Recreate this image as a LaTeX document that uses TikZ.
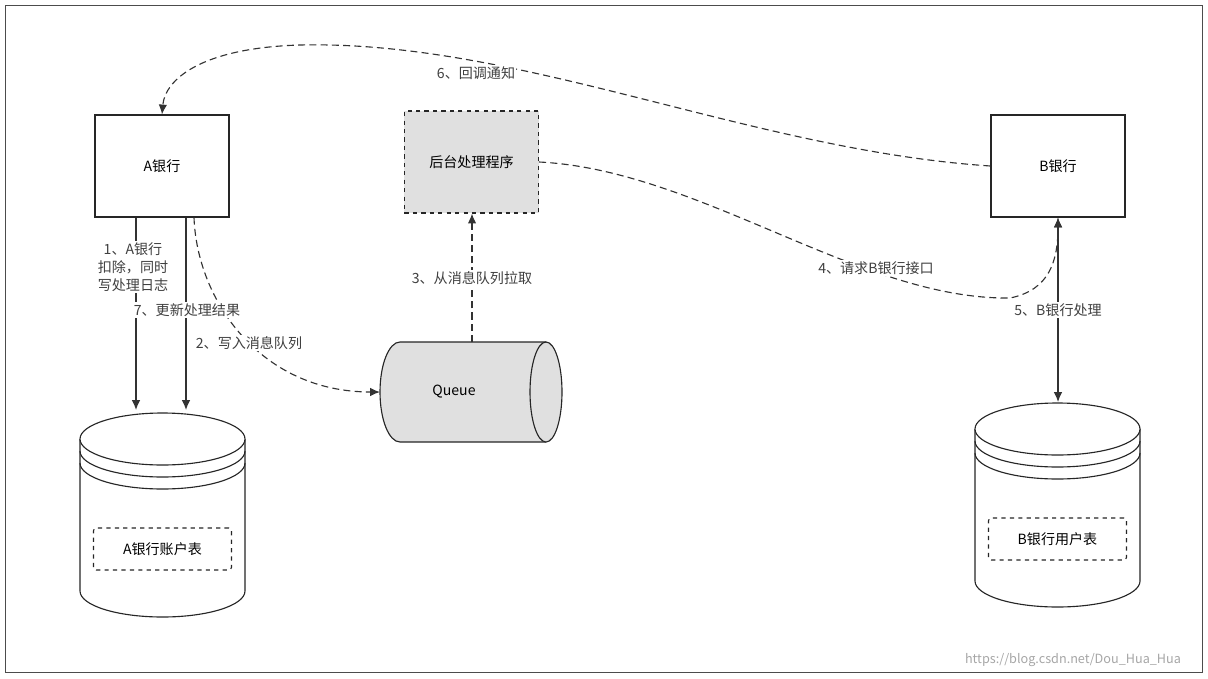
\documentclass[tikz,border=0pt]{standalone}
\usepackage{fontspec}
\setmainfont{Noto Sans CJK SC}
\usetikzlibrary{positioning}
\tikzset{
  box/.style={draw=black!85, thick, minimum width=3.35cm, minimum height=2.55cm, inner sep=0pt},
  lbl/.style={fill=white, inner sep=1pt, text=black!75, font=\fontsize{10}{13}\selectfont},
  flow/.style={thick, dashed, black!80, dash pattern=on 5pt off 3pt, -{Latex[length=7pt,width=6pt]}},
  solid flow/.style={thick, black!80, -{Latex[length=7pt,width=6pt]}},
}
\usetikzlibrary{arrows.meta}
\begin{document}
\begin{tikzpicture}[x=0.025cm, y=-0.025cm, font=\fontsize{10}{13}\selectfont]
\useasboundingbox (0,0) rectangle (1208,678);
\draw[black!70] (5,5) rectangle (1202,672);

% Boxes
\node[box] (abank) at (162,166) {A银行};
\node[box, dashed, fill=black!12] (backend) at (471.5,162) {后台处理程序};
\node[box] (bbank) at (1058,166) {B银行};

% Queue
\draw[thick, black!85, fill=black!12] (546,342) -- (400,342) arc[start angle=-90, end angle=-270, x radius=20, y radius=50] -- (546,442);
\draw[thick, black!85, fill=black!12] (546,392) ellipse[x radius=16, y radius=50];
\node (queue) at (454,392) {Queue};
\coordinate (qleft) at (380,392);
\coordinate (qtop) at (472,342);

% Databases
\foreach \cx/\ty/\by/\nm/\txt in {162.5/439/591/adb/A银行账户表, 1057.5/429/581/bdb/B银行用户表} {
  \draw[thick, black!85, fill=white] (\cx-82.5,\ty) -- (\cx-82.5,\by) arc[start angle=180, end angle=0, x radius=82.5, y radius=26] -- (\cx+82.5,\ty);
  \draw[thick, black!85, fill=white] (\cx,\ty) ellipse[x radius=82.5, y radius=26];
  \draw[thick, black!85] (\cx-82.5,\ty+12) arc[start angle=180, end angle=0, x radius=82.5, y radius=26];
  \draw[thick, black!85] (\cx-82.5,\ty+24) arc[start angle=180, end angle=0, x radius=82.5, y radius=26];
  \node[draw=black!85, thick, dashed, rounded corners=2pt, minimum width=3.45cm, minimum height=1.05cm] (\nm) at (\cx,\by-42) {\txt};
}
\coordinate (adbtop1) at (136,410);
\coordinate (adbtop2) at (186,410);
\coordinate (bdbtop) at (1058,402);

% Connectors
\draw[solid flow] (abank.south -| adbtop1) -- (adbtop1);
\draw[solid flow] (abank.south -| adbtop2) -- (adbtop2);
\draw[flow] ([xshift=0.8cm]abank.south) .. controls (197,300) and (260,392) .. (qleft);
\draw[flow] (qtop) -- (backend.south -| qtop);
\draw[flow] (backend.east) .. controls (700,170) and (860,300) .. (1010,298) .. controls (1050,290) and (1058,260) .. (bbank.south);
\draw[thick, black!80, {Latex[length=7pt,width=6pt]}-{Latex[length=7pt,width=6pt]}] (bbank.south) -- (bdbtop);
\draw[flow] (bbank.west) .. controls (750,150) and (520,40) .. (300,45) .. controls (200,48) and (165,80) .. (abank.north);

% Labels
\node[lbl, align=center] (l1) at (133,267) {1、A银行\\扣除，同时\\写处理日志};
\node[lbl] (l7) at (187,310) {7、更新处理结果};
\node[lbl] (l2) at (249,343) {2、写入消息队列};
\node[lbl] (l3) at (472,278) {3、从消息队列拉取};
\node[lbl] (l4) at (876,268) {4、请求B银行接口};
\node[lbl] (l5) at (1058,310) {5、B银行处理};
\node[lbl] (l6) at (476,73) {6、回调通知};
\node[text=black!35, font=\fontsize{9}{11}\selectfont] (mark) at (1073,660) {https://blog.csdn.net/Dou\_Hua\_Hua};
\end{tikzpicture}
\end{document}
